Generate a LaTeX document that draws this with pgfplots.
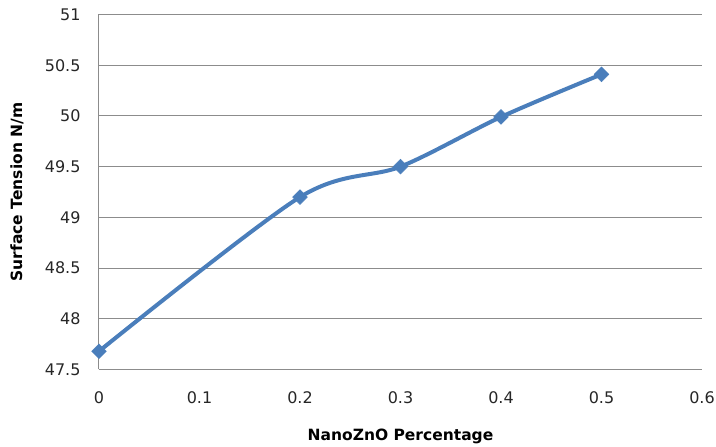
\documentclass[border=0pt]{standalone}
\usepackage{pgfplots}
\pgfplotsset{compat=1.18}
\usepackage{fontspec}
\setmainfont{DejaVu Sans}
\definecolor{xlblue}{HTML}{4A7EBB}
\definecolor{gridgray}{HTML}{8C8C8C}
\begin{document}
\begin{tikzpicture}[x=1pt,y=1pt]
\useasboundingbox (-99,-77.5) rectangle (617,369.5);
\begin{axis}[
  at={(0,0)}, anchor=south west,
  scale only axis, width=603pt, height=355pt,
  xmin=0, xmax=0.6, ymin=47.5, ymax=51,
  xtick={0,0.1,...,0.6}, ytick={47.5,48,...,51},
  xticklabels={0,0.1,0.2,0.3,0.4,0.5,0.6},
  yticklabels={47.5,48,48.5,49,49.5,50,50.5,51},
  /pgf/number format/assume math mode=true,
  axis x line*=bottom, axis y line*=left,
  axis line style={gridgray, line width=1pt, -},
  ymajorgrids, grid style={gridgray, line width=1pt},
  major tick length=0pt,
  tick label style={font=\fontsize{16}{18}\selectfont, color=black!85},
  xticklabel style={yshift=-19pt},
  yticklabel style={xshift=-15pt},
  xlabel={\textbf{NanoZnO Percentage}},
  ylabel={\textbf{Surface Tension N/m}},
  label style={font=\fontsize{15.5}{17}\selectfont},
  xlabel style={at={(axis description cs:0.5,0)}, anchor=north, yshift=-56pt},
  ylabel style={at={(axis description cs:0,0.5)}, anchor=south, yshift=72pt},
  clip=false,
]
\addplot[xlblue, line width=4pt, smooth, tension=0.5,
  mark=square*, mark size=5.2pt, mark options={solid, rotate=45, fill=xlblue, draw=xlblue, line width=0.5pt}]
  coordinates {(0,47.68) (0.2,49.2) (0.3,49.5) (0.4,49.99) (0.5,50.41)};
\end{axis}
\end{tikzpicture}
\end{document}
